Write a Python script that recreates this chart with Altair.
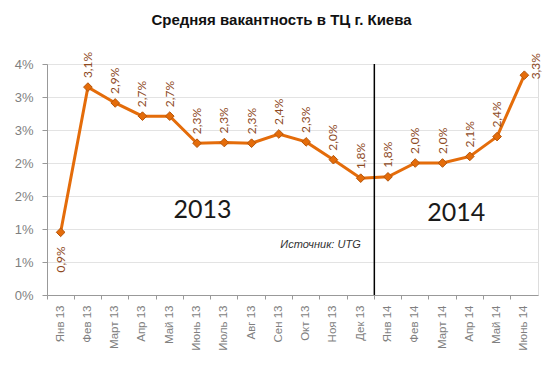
import altair as alt
import pandas as pd

MONTHS = ["Янв 13", "Фев 13", "Март 13", "Апр 13", "Май 13", "Июнь 13", "Июль 13",
          "Авг 13", "Сен 13", "Окт 13", "Ноя 13", "Дек 13", "Янв 14", "Фев 14",
          "Март 14", "Апр 14", "Май 14", "Июнь 14"]
VACANCY = [0.95, 3.15, 2.91, 2.71, 2.71, 2.30, 2.31, 2.30, 2.44, 2.32, 2.05, 1.77,
           1.79, 2.00, 2.00, 2.10, 2.40, 3.33]
VALUE_LABELS = ["0,9%", "3,1%", "2,9%", "2,7%", "2,7%", "2,3%", "2,3%", "2,3%", "2,4%",
                "2,3%", "2,0%", "1,8%", "1,8%", "2,0%", "2,0%", "2,1%", "2,4%", "3,3%"]
Y_TICKS = [0.0, 0.5, 1.0, 1.5, 2.0, 2.5, 3.0, 3.5]
Y_TICK_LABELS = ["0%", "1%", "1%", "2%", "2%", "3%", "3%", "4%"]
LABEL_BELOW = ["Янв 13"]
LABEL_RIGHT = ["Июнь 14"]

df = pd.DataFrame({"month": MONTHS, "v": VACANCY, "lbl": VALUE_LABELS})

label_expr = "[" + ",".join(f"'{s}'" for s in Y_TICK_LABELS) + "][round(datum.value*2)]"

xscale = alt.Scale(domain=MONTHS, type="band", paddingInner=0, paddingOuter=0)
yscale = alt.Scale(domain=[0, 3.5], nice=False, zero=True)

xaxis = alt.Axis(title=None, labelAngle=270, bandPosition=0, labelColor="#7f7f7f",
                 labelFont="Liberation Sans", labelFontSize=11.5, labelPadding=6,
                 tickColor="#999999", domainColor="#999999", tickSize=4,
                 labelAlign="right", labelBaseline="middle", grid=False, labelOverlap=False)
yaxis = alt.Axis(title=None, values=Y_TICKS, labelExpr=label_expr, labelOverlap=False,
                 labelColor="#7f7f7f", labelFont="Liberation Sans", labelFontSize=13,
                 tickColor="#999999", domainColor="#999999", tickSize=5,
                 labelPadding=9, grid=True, gridColor="#e3e3e3", gridWidth=1)

X = alt.X("month:N", sort=MONTHS, scale=xscale, bandPosition=0.5, axis=xaxis)
Y = alt.Y("v:Q", scale=yscale, axis=yaxis)

base = alt.Chart(df)

line = base.mark_line(color="#E46C0A", strokeWidth=3).encode(x=X, y=Y)
pts = base.mark_point(shape="diamond", filled=True, size=75, color="#E46C0A",
                      stroke="#B5560B", strokeWidth=1, opacity=1).encode(x=X, y=Y)

txt_common = dict(angle=270, font="Lato", fontSize=12, color="#8E4A1E")
above = base.transform_filter(
    ~alt.FieldOneOfPredicate(field="month", oneOf=LABEL_BELOW + LABEL_RIGHT)
).mark_text(align="left", baseline="middle", dx=9, **txt_common).encode(x=X, y=Y, text="lbl:N")
below = base.transform_filter(
    alt.FieldOneOfPredicate(field="month", oneOf=LABEL_BELOW)
).mark_text(align="right", baseline="middle", dx=-14, **txt_common).encode(x=X, y=Y, text="lbl:N")
right = base.transform_filter(
    alt.FieldOneOfPredicate(field="month", oneOf=LABEL_RIGHT)
).mark_text(align="center", baseline="top", dx=9, dy=7, **txt_common).encode(x=X, y=Y, text="lbl:N")

ann = pd.DataFrame({"one": [0]})
divider = alt.Chart(ann).mark_rule(color="black", strokeWidth=1.5).encode(
    x=alt.X(datum="Янв 14", bandPosition=0, scale=xscale, axis=xaxis),
    y=alt.Y(datum=3.5, scale=yscale, axis=yaxis), y2=alt.Y2(datum=0))

y2013 = alt.Chart(ann).mark_text(font="Lato", fontSize=25, color="#1a1a1a",
                                 align="center", baseline="middle").encode(
    x=alt.X(datum="Июнь 13", bandPosition=0.7, scale=xscale, axis=xaxis),
    y=alt.Y(datum=1.29, scale=yscale, axis=yaxis), text=alt.value("2013"))
y2014 = alt.Chart(ann).mark_text(font="Lato", fontSize=25, color="#1a1a1a",
                                 align="center", baseline="middle").encode(
    x=alt.X(datum="Апр 14", bandPosition=0, scale=xscale, axis=xaxis),
    y=alt.Y(datum=1.24, scale=yscale, axis=yaxis), text=alt.value("2014"))
source = alt.Chart(ann).mark_text(font="Liberation Sans", fontSize=11, fontStyle="italic",
                                  color="#333333", align="right", baseline="middle").encode(
    x=alt.X(datum="Дек 13", bandPosition=0.5, scale=xscale, axis=xaxis),
    y=alt.Y(datum=0.76, scale=yscale, axis=yaxis), text=alt.value("Источник: UTG"))

chart = alt.layer(line, divider, pts, above, below, right, y2013, y2014, source).properties(
    width=491, height=231,
    title=alt.TitleParams("Средняя вакантность в ТЦ г. Киева", font="Liberation Sans",
                          fontSize=15, fontWeight="bold", color="#111111", anchor="middle",
                          dx=-11, offset=24),
    autosize=alt.AutoSizeParams(type="none"),
    padding={"left": 39, "top": 56, "right": 14, "bottom": 70},
).configure_view(stroke=None).configure(background="white")

chart.save("out.html", embed_options={"renderer": "svg", "actions": False})
